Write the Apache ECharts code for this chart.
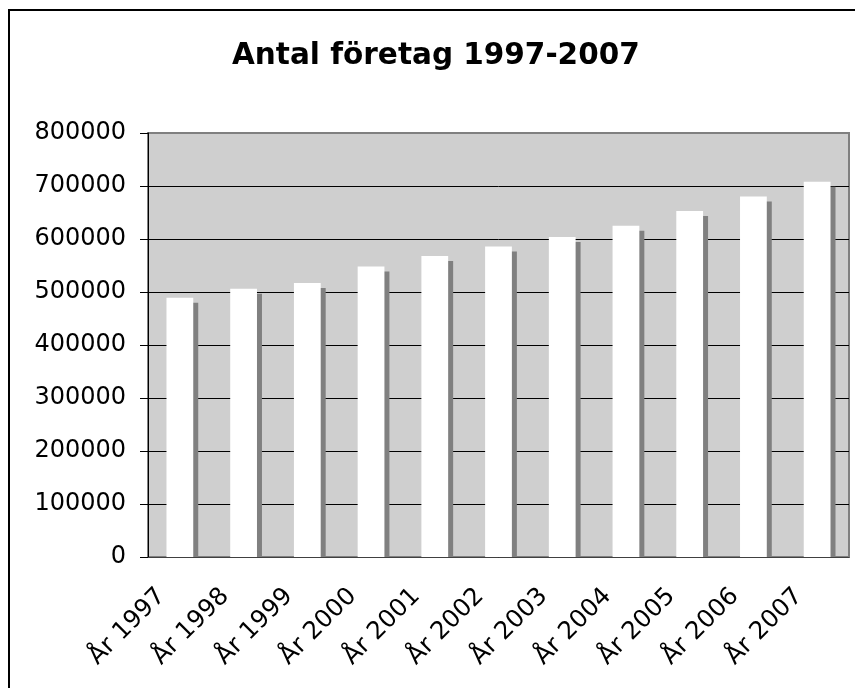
<!DOCTYPE html>
<html>
<head>
<meta charset="utf-8">
<script src="https://cdn.jsdelivr.net/npm/echarts@6/dist/echarts.min.js"></script>
<style>
  html, body { margin: 0; padding: 0; background: #fff; overflow: hidden; }
  #frame { position: absolute; left: 8px; top: 9px; width: 900px; height: 720px; border: 2px solid #000; }
  #chart { position: absolute; left: 0; top: 0; width: 855px; height: 688px; }
</style>
</head>
<body>
<div id="frame"></div>
<div id="chart"></div>
<script>
// Antal företag per år
const years = ['År 1997', 'År 1998', 'År 1999', 'År 2000', 'År 2001', 'År 2002',
  'År 2003', 'År 2004', 'År 2005', 'År 2006', 'År 2007']
const companies = [489000, 506000, 517000, 548000, 568000, 586000,
  604000, 625000, 653000, 680000, 708000]

const chart = echarts.init(document.getElementById('chart'))

// white bar with a hard grey drop shadow, kept inside the plot
function renderBar(params, api) {
  const top = api.coord([api.value(0), api.value(1)])
  const base = api.coord([api.value(0), 0])
  const bw = api.size([1, 0])[0] * 0.42
  const off = 5
  return {
    type: 'group',
    children: [
      {
        type: 'rect',
        shape: { x: top[0] - bw / 2 + off, y: top[1] + off, width: bw, height: base[1] - top[1] - off },
        style: { fill: '#808080' }
      },
      {
        type: 'rect',
        shape: { x: top[0] - bw / 2, y: top[1], width: bw, height: base[1] - top[1] },
        style: { fill: '#ffffff' }
      }
    ]
  }
}

chart.setOption({
  animation: false,
  title: {
    text: 'Antal företag 1997-2007',
    left: 227,
    top: 36,
    textStyle: { fontFamily: 'DejaVu Sans', fontWeight: 'bold', fontSize: 29.5, color: '#000' }
  },
  grid: {
    left: 148,
    top: 133,
    right: 6,
    bottom: 131,
    show: true,
    backgroundColor: '#cfcfcf',
    borderColor: '#808080',
    borderWidth: 2
  },
  xAxis: {
    type: 'category',
    data: years,
    axisLine: { lineStyle: { color: '#404040', width: 1 } },
    axisTick: { length: 8, lineStyle: { color: '#000' } },
    axisLabel: {
      rotate: 45,
      interval: 0,
      margin: 17,
      padding: [0, 26, 0, 0],
      fontFamily: 'DejaVu Sans',
      fontSize: 24.5,
      color: '#000'
    }
  },
  yAxis: {
    type: 'value',
    min: 0,
    max: 800000,
    interval: 100000,
    axisLine: { show: true, lineStyle: { color: '#000', width: 1 } },
    axisTick: { show: true, length: 8, lineStyle: { color: '#000' } },
    splitLine: { showMaxLine: false, lineStyle: { color: '#000', width: 1 } },
    axisLabel: {
      margin: 22,
      fontFamily: 'DejaVu Sans',
      fontSize: 24,
      color: '#000',
      formatter: v => String(v)
    }
  },
  series: [{
    name: 'Antal företag',
    type: 'custom',
    renderItem: renderBar,
    encode: { x: 0, y: 1 },
    data: years.map((y, i) => [i, companies[i]])
  }]
})
</script>
</body>
</html>
